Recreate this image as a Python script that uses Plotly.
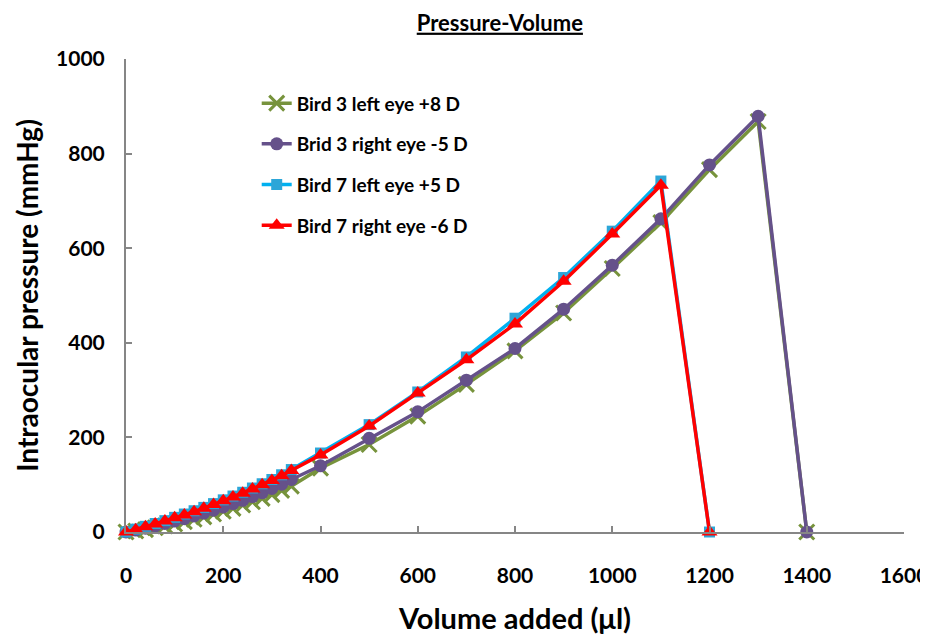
import plotly.graph_objects as go

# ---- data ----
vol_dense = [0, 20, 40, 60, 80, 100, 120, 140, 160, 180, 200, 220, 240, 260, 280, 300, 320, 340]
vol_b3 = vol_dense + [400, 500, 600, 700, 800, 900, 1000, 1100, 1200, 1300, 1400]
vol_b7 = vol_dense + [400, 500, 600, 700, 800, 900, 1000, 1100, 1200]

b3_left = [0, 2, 5, 9, 13, 17, 22, 27, 32, 38, 44, 50, 57, 64, 71, 79, 88, 97,
           135, 185, 245, 312, 383, 463, 557, 654, 766, 868, 0]
b3_right = [0, 4, 8, 13, 18, 23, 28, 34, 40, 46, 53, 60, 67, 75, 83, 92, 101, 111,
            140, 198, 254, 321, 388, 471, 564, 662, 776, 879, 0]
b7_left = [0, 6, 12, 18, 24, 31, 38, 45, 52, 60, 68, 76, 84, 93, 102, 111, 121, 132,
           167, 227, 296, 370, 452, 538, 636, 742, 0]
b7_right = [0, 5, 11, 17, 23, 30, 36, 43, 50, 58, 66, 74, 82, 91, 100, 109, 119, 130,
            163, 224, 294, 364, 440, 530, 630, 733, 0]

names = ["Bird 3 left eye +8 D", "Brid 3 right eye -5 D",
         "Bird 7 left eye +5 D", "Bird 7 right eye -6 D"]
x_ticks = [0, 200, 400, 600, 800, 1000, 1200, 1400, 1600]
y_ticks = [0, 200, 400, 600, 800, 1000]

FONT = "Lato"

fig = go.Figure()
fig.add_trace(go.Scatter(x=vol_b3, y=b3_left, name=names[0], mode="lines+markers",
                         legendgroup="g1",
                         line=dict(color="#77933C", width=3.5),
                         marker=dict(symbol="x-thin", size=15, color="#77933C",
                                     line=dict(color="#77933C", width=3))))
fig.add_trace(go.Scatter(x=vol_b3, y=b3_right, name=names[1], mode="lines+markers",
                         legendgroup="g2",
                         line=dict(color="#65518A", width=3.5),
                         marker=dict(symbol="circle", size=13, color="#65518A")))
fig.add_trace(go.Scatter(x=vol_b7, y=b7_left, name=names[2], mode="lines+markers",
                         legendgroup="g3",
                         line=dict(color="#00B0F0", width=3.5),
                         marker=dict(symbol="square", size=11, color="#2CA6D8")))
fig.add_trace(go.Scatter(x=vol_b7, y=b7_right, name=names[3], mode="lines+markers",
                         legendgroup="g4",
                         line=dict(color="#FF0000", width=3.5),
                         marker=dict(symbol="triangle-up", size=14, color="#FF0000")))
fig.update_traces(cliponaxis=False)

axis_common = dict(showline=True, linecolor="#868686", linewidth=2,
                   ticks="inside", ticklen=6, tickcolor="#868686", tickwidth=1.5,
                   showgrid=False, zeroline=False, automargin=False,
                   ticklabeloverflow="allow",
                   tickfont=dict(family=FONT, size=21, color="black", weight="bold"))

fig.update_layout(
    width=928, height=641,
    paper_bgcolor="white", plot_bgcolor="white",
    margin=dict(l=118, r=32, t=51, b=117),
    title=dict(text="<u>Pressure-Volume</u>", x=0.530, xanchor="center",
               y=1 - 15 / 641, yanchor="middle", automargin=False,
               font=dict(family=FONT, size=22, color="black", weight="bold")),
    xaxis=dict(range=[0, 1600], tickvals=x_ticks, ticktext=[str(v) for v in x_ticks],
               ticklabelstandoff=24,
               title=dict(text="Volume added (μl)", standoff=22,
                          font=dict(family=FONT, size=29, color="black", weight="bold")),
               **axis_common),
    yaxis=dict(range=[0, 1000], tickvals=y_ticks, ticktext=[str(v) for v in y_ticks],
               ticklabelstandoff=15,
               title=dict(text="Intraocular pressure (mmHg)", standoff=9,
                          font=dict(family=FONT, size=28, color="black", weight="bold")),
               **axis_common),
    showlegend=True,
    legend=dict(x=0.168, y=0.9465, xanchor="left", yanchor="top",
                bgcolor="rgba(0,0,0,0)", tracegroupgap=13,
                font=dict(family=FONT, size=19, color="black", weight="bold")),
)

fig.write_html("out.html")
